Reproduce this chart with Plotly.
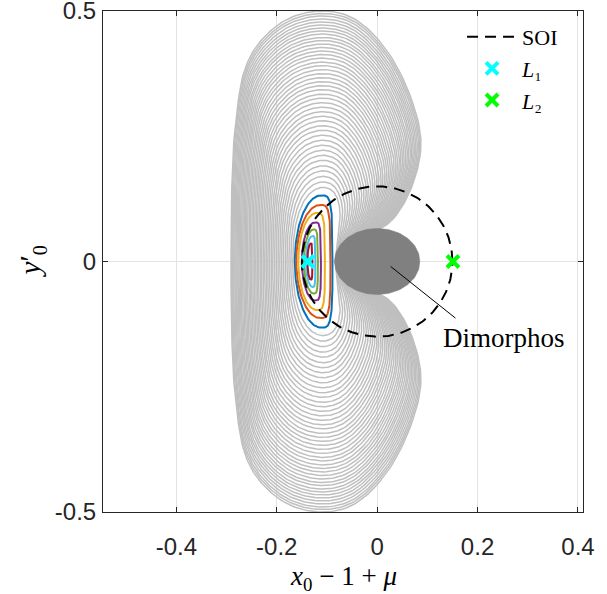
import numpy as np
import plotly.graph_objects as go

# ---------------- data ----------------
# Gray family of closed curves: top height of each curve
gray_tops = [0.148, 0.159, 0.170, 0.181, 0.191, 0.202, 0.212, 0.222, 0.232, 0.242,
             0.252, 0.262, 0.271, 0.281, 0.290, 0.299, 0.308, 0.317, 0.326, 0.334,
             0.343, 0.351, 0.359, 0.367, 0.375, 0.383, 0.391, 0.398, 0.406, 0.413,
             0.420, 0.427, 0.434, 0.441, 0.447, 0.454, 0.460, 0.466, 0.472, 0.478,
             0.484, 0.490, 0.495, 0.500]

# innermost gray curve (upper half, left end -> top -> right end), matched point by point
inner_x = [-0.168, -0.167, -0.163, -0.155, -0.145, -0.128, -0.108, -0.090, -0.079, -0.074, -0.075, -0.078, -0.081, -0.083]
inner_y = [0.000, 0.035, 0.070, 0.100, 0.122, 0.141, 0.148, 0.142, 0.125, 0.100, 0.075, 0.050, 0.025, 0.000]

# outermost gray curve (upper half)
outer_x = [-0.291, -0.290, -0.283, -0.263, -0.232, -0.178, -0.110, -0.045, 0.030, 0.086, 0.074, 0.030, -0.030, -0.080]
outer_y = [0.000, 0.130, 0.265, 0.385, 0.440, 0.484, 0.500, 0.484, 0.405, 0.255, 0.163, 0.083, 0.045, 0.000]

# coloured orbits: left x, right x, top y
orbit_colors = ["#0072BD", "#D95319", "#EDB120", "#7E2F8E", "#77AC30", "#4DBEEE", "#A2142F"]
orbit_left = [-0.164, -0.161, -0.157, -0.150, -0.146, -0.142, -0.139]
orbit_right = [-0.089, -0.093, -0.104, -0.112, -0.118, -0.123, -0.129]
orbit_top = [0.132, 0.113, 0.097, 0.078, 0.064, 0.051, 0.036]

soi_radius = 0.15
dimorphos_center = (0.0, 0.0)
dimorphos_axes = (0.085, 0.066)
L1_x, L1_y = [-0.138], [0.0]
L2_x, L2_y = [0.151], [0.0]
label_text = "Dimorphos"
pointer_x = [0.027, 0.156]
pointer_y = [-0.010, -0.113]
label_pos = (0.253, -0.153)

x_ticks = [-0.4, -0.2, 0, 0.2, 0.4]
x_ticktext = ["-0.4", "-0.2", "0", "0.2", "0.4"]
y_ticks = [-0.5, 0, 0.5]
y_ticktext = ["-0.5", "0", "0.5"]


# ---------------- helpers ----------------
def closed_spline(pts, n_per=14, alpha=0.5):
    """Centripetal Catmull-Rom through a closed list of control points."""
    P = np.asarray(pts, dtype=float)
    N = len(P)
    out = []
    for i in range(N):
        p0, p1, p2, p3 = P[i - 1], P[i], P[(i + 1) % N], P[(i + 2) % N]
        t0 = 0.0
        t1 = t0 + max(np.linalg.norm(p1 - p0), 1e-9) ** alpha
        t2 = t1 + max(np.linalg.norm(p2 - p1), 1e-9) ** alpha
        t3 = t2 + max(np.linalg.norm(p3 - p2), 1e-9) ** alpha
        t = np.linspace(t1, t2, n_per, endpoint=False)[:, None]
        A1 = (t1 - t) / (t1 - t0) * p0 + (t - t0) / (t1 - t0) * p1
        A2 = (t2 - t) / (t2 - t1) * p1 + (t - t1) / (t2 - t1) * p2
        A3 = (t3 - t) / (t3 - t2) * p2 + (t - t2) / (t3 - t2) * p3
        B1 = (t2 - t) / (t2 - t0) * A1 + (t - t0) / (t2 - t0) * A2
        B2 = (t3 - t) / (t3 - t1) * A2 + (t - t1) / (t3 - t1) * A3
        C = (t2 - t) / (t2 - t1) * B1 + (t - t1) / (t2 - t1) * B2
        out.append(C)
    out = np.vstack(out + [out[0][:1]])
    return out[:, 0], out[:, 1]


def mirror_loop(xu, yu):
    xu = list(xu); yu = list(yu)
    xs = xu + xu[-2:0:-1]
    ys = yu + [-v for v in yu[-2:0:-1]]
    return list(zip(xs, ys))


# ---------------- build figure ----------------
fig = go.Figure()

ix, iy, ox, oy = map(np.asarray, (inner_x, inner_y, outer_x, outer_y))
top_in, top_out = iy.max(), oy.max()
for t in gray_tops:
    w = (t - top_in) / (top_out - top_in)
    cx = ix + w * (ox - ix)
    cy = iy + w * (oy - iy)
    xx, yy = closed_spline(mirror_loop(cx, cy))
    fig.add_trace(go.Scatter(x=xx, y=yy, mode="lines", line=dict(color="#BFBFBF", width=1.5),
                             showlegend=False, hoverinfo="skip"))

# Dimorphos
ph = np.linspace(0, 2 * np.pi, 120)
fig.add_trace(go.Scatter(x=dimorphos_center[0] + dimorphos_axes[0] * np.cos(ph),
                         y=dimorphos_center[1] + dimorphos_axes[1] * np.sin(ph),
                         mode="lines", fill="toself", fillcolor="#808080", line=dict(color="#808080", width=0.5),
                         showlegend=False, hoverinfo="skip"))

# coloured orbits (D-shaped)
phi = np.linspace(0, np.pi, 80)
for c, L, R, T in zip(orbit_colors, orbit_left, orbit_right, orbit_top):
    xp = R - 0.3 * (R - L)
    cs, sn = np.cos(phi), np.sin(phi)
    xr = np.where(cs >= 0, xp + (R - xp) * np.abs(cs) ** 0.5, xp - (xp - L) * np.abs(cs))
    yr = np.where(cs >= 0, T * np.abs(sn) ** 0.5, T * np.abs(sn))
    xx = np.concatenate([xr, xr[::-1][1:]])
    yy = np.concatenate([yr, -yr[::-1][1:]])
    fig.add_trace(go.Scatter(x=xx, y=yy, mode="lines", line=dict(color=c, width=2),
                             showlegend=False, hoverinfo="skip"))

# SOI
ps = np.linspace(0, 2 * np.pi, 300)
fig.add_trace(go.Scatter(x=soi_radius * np.cos(ps), y=soi_radius * np.sin(ps), mode="lines",
                         line=dict(color="black", width=2, dash="11px,7px"), name="SOI"))
fig.add_trace(go.Scatter(x=L1_x, y=L1_y, mode="markers", name="<i>L</i>₁",
                         marker=dict(symbol="x-thin", size=12, line=dict(color="#00FFFF", width=4), color="#00FFFF")))
fig.add_trace(go.Scatter(x=L2_x, y=L2_y, mode="markers", name="<i>L</i>₂",
                         marker=dict(symbol="x-thin", size=12, line=dict(color="#00FF00", width=4), color="#00FF00")))
fig.add_trace(go.Scatter(x=pointer_x, y=pointer_y, mode="lines", line=dict(color="black", width=1),
                         showlegend=False, hoverinfo="skip"))

fig.add_annotation(x=label_pos[0], y=label_pos[1], text=label_text, showarrow=False,
                   font=dict(family="Liberation Serif", size=27, color="black"))

# axis titles as annotations (paper coordinates)
fig.add_annotation(xref="paper", yref="paper", x=0.5, y=-0.131, xanchor="center", yanchor="middle",
                   text="<i>x</i><sub>0</sub> − 1 + <i>μ</i>", showarrow=False,
                   font=dict(family="Liberation Serif", size=27, color="black"))
fig.add_annotation(xref="paper", yref="paper", x=-0.148, y=0.5, xanchor="center", yanchor="middle",
                   text="<i>y</i>′<sub>0</sub>", showarrow=False, textangle=-90,
                   font=dict(family="Liberation Serif", size=29, color="black"))

axis_common = dict(showgrid=True, gridcolor="#E3E3E3", gridwidth=1, zeroline=False,
                   showline=True, linecolor="#262626", linewidth=1, mirror="ticks",
                   ticks="inside", ticklen=5, tickcolor="#262626", automargin=False,
                   ticklabeloverflow="allow",
                   tickfont=dict(family="Liberation Sans", size=24, color="#262626"))

fig.update_xaxes(range=[-0.546, 0.410], tickvals=x_ticks, ticktext=x_ticktext,
                 ticklabelstandoff=13, **axis_common)
fig.update_yaxes(range=[-0.5, 0.5], tickvals=y_ticks, ticktext=y_ticktext,
                 ticklabelstandoff=1, **axis_common)

fig.update_layout(
    width=607, height=594,
    margin=dict(l=103, r=24, t=11, b=82),
    plot_bgcolor="white", paper_bgcolor="white",
    showlegend=True,
    legend=dict(x=0.748, y=0.99, xanchor="left", yanchor="top", bgcolor="rgba(0,0,0,0)",
                font=dict(family="Liberation Serif", size=22, color="black"), itemwidth=50,
                tracegroupgap=0),
)

fig.write_html("out.html", config={"displayModeBar": False},
               post_script="document.body.style.margin='0';")
